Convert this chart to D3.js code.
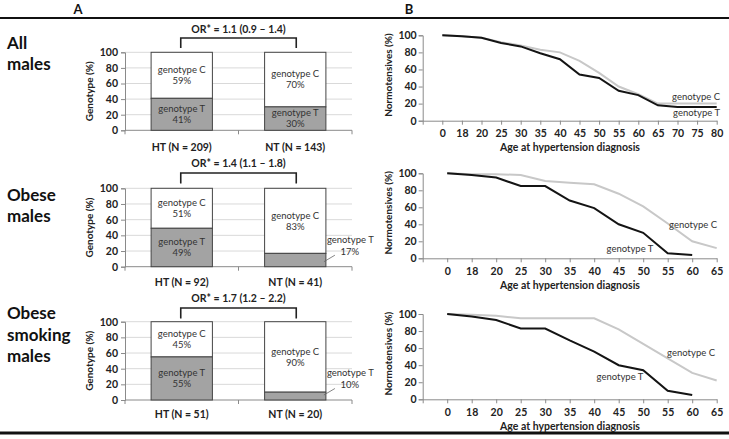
<!DOCTYPE html>
<html><head><meta charset="utf-8">
<script src="https://cdn.jsdelivr.net/npm/d3@7"></script>
<style>
body{margin:0;background:#fff;}
svg{display:block;font-family:Lato,"Open Sans",sans-serif;}
</style></head>
<body><svg id="c" width="729" height="439"></svg>
<script>
// ---- data ----
const rowLabels = [["All","males"],["Obese","males"],["Obese","smoking","males"]];
const groups1 = ["HT (N = 209)","NT (N = 143)"];
const groups2 = ["HT (N = 92)","NT (N = 41)"];
const groups3 = ["HT (N = 51)","NT (N = 20)"];
const pctT1 = [41,30];
const pctT2 = [49,17];
const pctT3 = [55,10];
const orLabels = ["OR* = 1.1 (0.9 \u2013 1.4)","OR* = 1.4 (1.1 \u2013 1.8)","OR* = 1.7 (1.2 \u2013 2.2)"];
const yTicks = [0,20,40,60,80,100];

const ages1 = ["0","18","20","25","30","35","40","45","50","55","60","65","70","75","80"];
const survC1 = [100,99,97,92,88,83,80,70,56,40,31,20,20,20,20];
const survT1 = [100,99,97,91,87,79,72,54,50,35,30,18,16,16,16];
const ages2 = ["0","18","20","25","30","35","40","45","50","55","60","65"];
const survC2 = [100,99,99,98,91,89,87,76,61,41,20,12];
const survT2 = [100,98,95,85,85,68,59,40,30,6,4];
const ages3 = ["0","18","20","25","30","35","40","45","50","55","60","65"];
const survC3 = [100,99,98,95,95,95,95,82,65,48,31,22];
const survT3 = [100,97,93,83,83,69,56,40,34,10,5];

// ---- drawing ----
const svg = d3.select("#c");
const FONT = "Lato, 'Open Sans', sans-serif";
const axisCol = "#8a8a8a", txtCol = "#222";

svg.append("rect").attr("x",0).attr("y",17).attr("width",729).attr("height",2).attr("fill","#111");
svg.append("rect").attr("x",0).attr("y",431.5).attr("width",729).attr("height",3).attr("fill","#111");
svg.append("text").attr("x",78).attr("y",14).attr("text-anchor","middle").attr("font-size",13).attr("font-weight","bold").attr("fill","#111").text("A");
svg.append("text").attr("x",409).attr("y",14).attr("text-anchor","middle").attr("font-size",13).attr("font-weight","bold").attr("fill","#111").text("B");

const barRows = [
  {groups:groups1, t:pctT1, or:orLabels[0], y0:130.3, y100:52.3, labelTop:43, brTop:38, brBot:48, orY:29, catY:147},
  {groups:groups2, t:pctT2, or:orLabels[1], y0:266.7, y100:188.3, labelTop:195, brTop:173, brBot:183.5, orY:163, catY:282},
  {groups:groups3, t:pctT3, or:orLabels[2], y0:400, y100:321.7, labelTop:313.5, brTop:308, brBot:318.5, orY:298.5, catY:414.5}
];
const lineRows = [
  {ages:ages1, c:survC1, t:survT1, y0:120.7, y100:35.3, cLab:[720,97], tLab:[720,113], anchor:"end"},
  {ages:ages2, c:survC2, t:survT2, y0:258.3, y100:173.3, cLab:[717,225], tLab:[630,249], anchor:"mixed"},
  {ages:ages3, c:survC3, t:survT3, y0:399.3, y100:314, cLab:[715,353], tLab:[620,377], anchor:"mixed"}
];

barRows.forEach((r,i)=>{
  const g = svg.append("g");
  rowLabels[i].forEach((s,k)=>{
    g.append("text").attr("x",7).attr("y",r.labelTop+k*21.5).attr("dy","0.35em")
      .attr("font-size",17).attr("font-weight","bold").attr("fill","#111").text(s);
  });
  const y = d3.scaleLinear().domain([0,100]).range([r.y0,r.y100]);
  const x = d3.scaleBand().domain(r.groups).range([125,352]).paddingInner(0.46).paddingOuter(0.23);
  g.selectAll("line.grid").data(yTicks.filter(v=>v>0)).join("line")
    .attr("x1",125).attr("x2",352).attr("y1",d=>y(d)).attr("y2",d=>y(d))
    .attr("stroke","#d9d9d9").attr("stroke-width",1);
  const ya = g.append("g").attr("transform","translate(125,0)")
    .call(d3.axisLeft(y).tickValues(yTicks).tickSize(4).tickPadding(3));
  ya.select(".domain").attr("stroke",axisCol);
  ya.selectAll(".tick line").attr("stroke",axisCol);
  ya.selectAll("text").attr("font-family",FONT).attr("font-size",10.5).attr("font-weight","bold").attr("fill",txtCol);
  g.append("text").attr("transform",`translate(89,${(r.y0+r.y100)/2}) rotate(-90)`)
    .attr("text-anchor","middle").attr("dy","0.35em").attr("font-size",10).attr("font-weight","bold").attr("fill",txtCol).text("Genotype (%)");
  g.append("line").attr("x1",125).attr("x2",352).attr("y1",r.y0).attr("y2",r.y0).attr("stroke",axisCol);
  const edges = [125, (x(r.groups[0])+x.bandwidth()+x(r.groups[1]))/2, 352];
  g.selectAll("line.xt").data(edges).join("line")
    .attr("x1",d=>d).attr("x2",d=>d).attr("y1",r.y0).attr("y2",r.y0+4).attr("stroke",axisCol);
  g.selectAll("text.cat").data(r.groups).join("text")
    .attr("x",d=>x(d)+x.bandwidth()/2).attr("y",r.catY).attr("dy","0.35em").attr("text-anchor","middle")
    .attr("font-size",10.5).attr("font-weight","bold").attr("fill",txtCol).text(d=>d);
  r.groups.forEach((grp,j)=>{
    const t = r.t[j], c = 100 - t;
    const bx = x(grp), bw = x.bandwidth(), cx = bx+bw/2;
    g.append("rect").attr("x",bx).attr("y",y(100)).attr("width",bw).attr("height",y(t)-y(100))
      .attr("fill","#fff").attr("stroke","#444").attr("stroke-width",1);
    g.append("rect").attr("x",bx).attr("y",y(t)).attr("width",bw).attr("height",y(0)-y(t))
      .attr("fill","#a3a3a3").attr("stroke","#444").attr("stroke-width",1);
    const cMid = y(t + c/2);
    g.append("text").attr("x",cx).attr("y",cMid-5.5).attr("dy","0.35em").attr("text-anchor","middle")
      .attr("font-size",9.5).attr("fill","#333").text("genotype C");
    g.append("text").attr("x",cx).attr("y",cMid+5.5).attr("dy","0.35em").attr("text-anchor","middle")
      .attr("font-size",9.5).attr("fill","#333").text(c+"%");
    if (t >= 25) {
      const tMid = y(t/2);
      g.append("text").attr("x",cx).attr("y",tMid-5.5).attr("dy","0.35em").attr("text-anchor","middle")
        .attr("font-size",9.5).attr("fill","#333").text("genotype T");
      g.append("text").attr("x",cx).attr("y",tMid+5.5).attr("dy","0.35em").attr("text-anchor","middle")
        .attr("font-size",9.5).attr("fill","#333").text(t+"%");
    } else {
      g.append("text").attr("x",bx+bw+1).attr("y",r.y0-27).attr("dy","0.35em")
        .attr("font-size",9.5).attr("fill","#333").text("genotype T");
      g.append("text").attr("x",bx+bw+24).attr("y",r.y0-15.5).attr("dy","0.35em").attr("text-anchor","middle")
        .attr("font-size",9.5).attr("fill","#333").text(t+"%");
      g.append("line").attr("x1",bx+bw-2).attr("y1",r.y0-5).attr("x2",bx+bw+9).attr("y2",r.y0-11.5)
        .attr("stroke","#666").attr("stroke-width",0.8);
    }
  });
  const c0 = x(r.groups[0])+x.bandwidth()/2, c1 = x(r.groups[1])+x.bandwidth()/2;
  g.append("path").attr("d",`M${c0-1},${r.brBot}V${r.brTop}H${c1+1}V${r.brBot}`)
    .attr("fill","none").attr("stroke","#222").attr("stroke-width",1.6);
  g.append("text").attr("x",(c0+c1)/2).attr("y",r.orY).attr("dy","0.35em").attr("text-anchor","middle")
    .attr("font-size",10.5).attr("font-weight","bold").attr("fill",txtCol).text(r.or);
});

lineRows.forEach((r)=>{
  const g = svg.append("g");
  const dom = [""].concat(r.ages);
  const x = d3.scalePoint().domain(dom).range([422.7,716.7]);
  const y = d3.scaleLinear().domain([0,100]).range([r.y0,r.y100]);
  const ya = g.append("g").attr("transform","translate(422.7,0)")
    .call(d3.axisLeft(y).tickValues(yTicks).tickSize(4).tickPadding(2));
  ya.select(".domain").attr("stroke",axisCol);
  ya.selectAll(".tick line").attr("stroke",axisCol);
  ya.selectAll("text").attr("font-family",FONT).attr("font-size",10.5).attr("font-weight","bold").attr("fill",txtCol);
  const xa = g.append("g").attr("transform",`translate(0,${r.y0})`)
    .call(d3.axisBottom(x).tickSize(4).tickPadding(5).tickSizeOuter(0));
  xa.select(".domain").attr("stroke",axisCol);
  xa.selectAll(".tick line").attr("stroke",axisCol);
  xa.selectAll("text").attr("font-family",FONT).attr("font-size",10.5).attr("font-weight","bold").attr("fill",txtCol);
  g.append("text").attr("x",570).attr("y",r.y0+27).attr("dy","0.35em").attr("text-anchor","middle")
    .attr("font-size",10.5).attr("font-weight","bold").attr("fill",txtCol).text("Age at hypertension diagnosis");
  g.append("text").attr("transform",`translate(388,${(r.y0+r.y100)/2-3}) rotate(-90)`)
    .attr("text-anchor","middle").attr("dy","0.35em").attr("font-size",10).attr("font-weight","bold").attr("fill",txtCol).text("Normotensives (%)");
  const line = d3.line().x((d,k)=>x(r.ages[k])).y(d=>y(d));
  g.append("path").attr("d",line(r.c)).attr("fill","none").attr("stroke","#c8c8c8").attr("stroke-width",2);
  g.append("path").attr("d",line(r.t)).attr("fill","none").attr("stroke","#141414").attr("stroke-width",2);
  g.append("text").attr("x",r.cLab[0]).attr("y",r.cLab[1]).attr("dy","0.35em")
    .attr("text-anchor","end").attr("font-size",9.5).attr("fill","#333").text("genotype C");
  g.append("text").attr("x",r.tLab[0]).attr("y",r.tLab[1]).attr("dy","0.35em")
    .attr("text-anchor",r.anchor==="end"?"end":"middle").attr("font-size",9.5).attr("fill","#333").text("genotype T");
});
</script></body></html>
